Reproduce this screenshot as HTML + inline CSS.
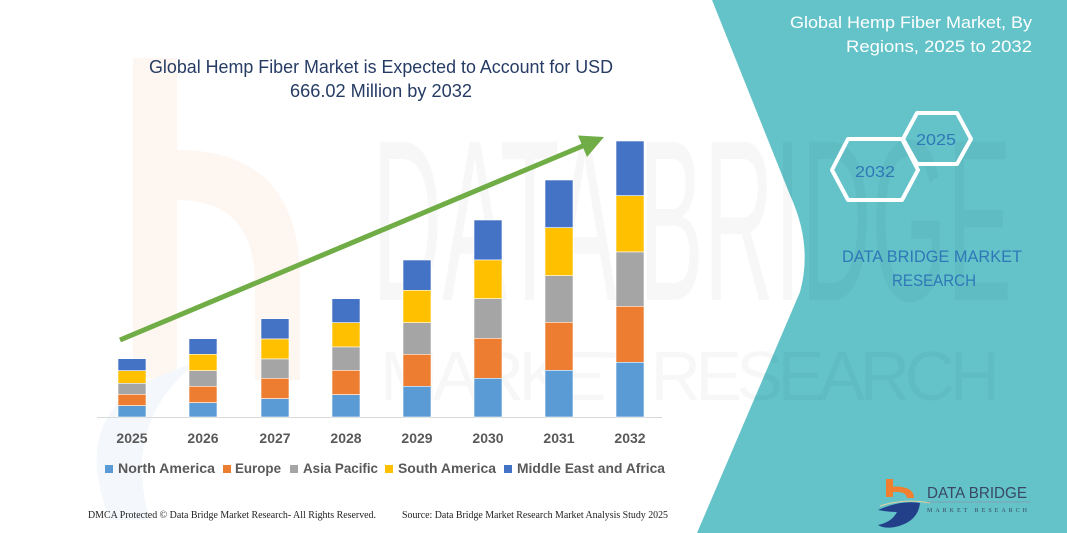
<!DOCTYPE html>
<html>
<head>
<meta charset="utf-8">
<style>
html,body{margin:0;padding:0;background:#fff;}
svg{display:block;}
</style>
</head>
<body>
<svg width="1067" height="533" viewBox="0 0 1067 533" xmlns="http://www.w3.org/2000/svg">
  <!-- backgrounds -->
  <rect x="0" y="0" width="1067" height="533" fill="#63c3c9"/>
  <path d="M0,0 L712,0 L790,195 Q813,245 800,292 L697,533 L0,533 Z" fill="#ffffff"/>

  <!-- faint watermark -->
  <g opacity="0.5">
    <rect x="133" y="58" width="44" height="320" fill="#fdeee4"/>
    <path d="M177,150 Q300,150 300,280 L300,380 L255,380 L255,285 Q255,200 177,200 Z" fill="#fdeee4"/>
    <path d="M110,520 Q70,420 150,380 L200,360 Q120,420 150,520 Z" fill="#eaf0f8"/>
  </g>
  <g font-family="'Liberation Sans', sans-serif" fill="#000" fill-opacity="0.03">
    <text x="372" y="300" font-size="230" textLength="640" lengthAdjust="spacingAndGlyphs" font-weight="normal">DATA BRIDGE</text>
    <text x="380" y="400" font-size="70" textLength="620" lengthAdjust="spacing">MARKET RESEARCH</text>
  </g>

  <!-- chart title -->
  <g font-family="'Liberation Sans', sans-serif" fill="#263c64" font-size="18.5" text-anchor="middle">
    <text x="381" y="73" textLength="464" lengthAdjust="spacingAndGlyphs">Global Hemp Fiber Market is Expected to Account for USD</text>
    <text x="381" y="97" textLength="182" lengthAdjust="spacingAndGlyphs">666.02 Million by 2032</text>
  </g>

  <!-- axis line -->
  <line x1="97" y1="417.5" x2="662" y2="417.5" stroke="#d9d9d9" stroke-width="1"/>

  <!-- bars -->
  <g stroke="#ffffff" stroke-width="0.6">
    <rect x="118" y="358.7" width="28" height="12" fill="#4472c4"/>
    <rect x="118" y="370.7" width="28" height="12.6" fill="#ffc000"/>
    <rect x="118" y="383.3" width="28" height="11" fill="#a5a5a5"/>
    <rect x="118" y="394.3" width="28" height="11.4" fill="#ed7d31"/>
    <rect x="118" y="405.7" width="28" height="11.3" fill="#5b9bd5"/>
    <rect x="189" y="338.7" width="28" height="15.6" fill="#4472c4"/>
    <rect x="189" y="354.3" width="28" height="16.4" fill="#ffc000"/>
    <rect x="189" y="370.7" width="28" height="15.6" fill="#a5a5a5"/>
    <rect x="189" y="386.3" width="28" height="16.4" fill="#ed7d31"/>
    <rect x="189" y="402.7" width="28" height="14.3" fill="#5b9bd5"/>
    <rect x="261" y="318.7" width="28" height="20.3" fill="#4472c4"/>
    <rect x="261" y="339" width="28" height="20" fill="#ffc000"/>
    <rect x="261" y="359" width="28" height="19.3" fill="#a5a5a5"/>
    <rect x="261" y="378.3" width="28" height="20.4" fill="#ed7d31"/>
    <rect x="261" y="398.7" width="28" height="18.3" fill="#5b9bd5"/>
    <rect x="332" y="298.7" width="28" height="24" fill="#4472c4"/>
    <rect x="332" y="322.7" width="28" height="24.3" fill="#ffc000"/>
    <rect x="332" y="347" width="28" height="23.3" fill="#a5a5a5"/>
    <rect x="332" y="370.3" width="28" height="24.4" fill="#ed7d31"/>
    <rect x="332" y="394.7" width="28" height="22.3" fill="#5b9bd5"/>
    <rect x="403" y="260" width="28" height="30.3" fill="#4472c4"/>
    <rect x="403" y="290.3" width="28" height="32.4" fill="#ffc000"/>
    <rect x="403" y="322.7" width="28" height="31.6" fill="#a5a5a5"/>
    <rect x="403" y="354.3" width="28" height="32" fill="#ed7d31"/>
    <rect x="403" y="386.3" width="28" height="30.7" fill="#5b9bd5"/>
    <rect x="474" y="220" width="28" height="40" fill="#4472c4"/>
    <rect x="474" y="260" width="28" height="38.7" fill="#ffc000"/>
    <rect x="474" y="298.7" width="28" height="39.6" fill="#a5a5a5"/>
    <rect x="474" y="338.3" width="28" height="40" fill="#ed7d31"/>
    <rect x="474" y="378.3" width="28" height="38.7" fill="#5b9bd5"/>
    <rect x="545" y="180" width="28" height="47.7" fill="#4472c4"/>
    <rect x="545" y="227.7" width="28" height="48" fill="#ffc000"/>
    <rect x="545" y="275.7" width="28" height="46.6" fill="#a5a5a5"/>
    <rect x="545" y="322.3" width="28" height="48" fill="#ed7d31"/>
    <rect x="545" y="370.3" width="28" height="46.7" fill="#5b9bd5"/>
    <rect x="616" y="141" width="28" height="54.7" fill="#4472c4"/>
    <rect x="616" y="195.7" width="28" height="56.3" fill="#ffc000"/>
    <rect x="616" y="252" width="28" height="54.3" fill="#a5a5a5"/>
    <rect x="616" y="306.3" width="28" height="56" fill="#ed7d31"/>
    <rect x="616" y="362.3" width="28" height="54.7" fill="#5b9bd5"/>
  </g>

  <!-- arrow -->
  <line x1="120" y1="340" x2="585" y2="145" stroke="#70ad47" stroke-width="5"/>
  <polygon points="604,137 578,135.5 587,157" fill="#70ad47"/>

  <!-- year labels -->
  <g font-family="'Liberation Sans', sans-serif" font-weight="bold" font-size="14" fill="#595959" text-anchor="middle">
    <text x="132" y="443">2025</text>
    <text x="203" y="443">2026</text>
    <text x="275" y="443">2027</text>
    <text x="346" y="443">2028</text>
    <text x="417" y="443">2029</text>
    <text x="488" y="443">2030</text>
    <text x="559" y="443">2031</text>
    <text x="630" y="443">2032</text>
  </g>

  <!-- legend -->
  <g font-family="'Liberation Sans', sans-serif" font-weight="bold" font-size="14" fill="#595959">
    <rect x="105" y="465" width="8" height="8" fill="#5b9bd5"/>
    <text x="118" y="473" textLength="97" lengthAdjust="spacingAndGlyphs">North America</text>
    <rect x="223" y="465" width="8" height="8" fill="#ed7d31"/>
    <text x="235" y="473" textLength="46" lengthAdjust="spacingAndGlyphs">Europe</text>
    <rect x="290" y="465" width="8" height="8" fill="#a5a5a5"/>
    <text x="303" y="473" textLength="75" lengthAdjust="spacingAndGlyphs">Asia Pacific</text>
    <rect x="385" y="465" width="8" height="8" fill="#ffc000"/>
    <text x="398" y="473" textLength="98" lengthAdjust="spacingAndGlyphs">South America</text>
    <rect x="504" y="465" width="8" height="8" fill="#4472c4"/>
    <text x="517" y="473" textLength="148" lengthAdjust="spacingAndGlyphs">Middle East and Africa</text>
  </g>

  <!-- footer -->
  <g font-family="'Liberation Serif', serif" font-size="10" fill="#222">
    <text x="88" y="518" textLength="288" lengthAdjust="spacingAndGlyphs">DMCA Protected © Data Bridge Market Research-  All Rights Reserved.</text>
    <text x="402" y="518" textLength="266" lengthAdjust="spacingAndGlyphs">Source: Data Bridge Market Research  Market Analysis Study 2025</text>
  </g>

  <!-- right panel title -->
  <g font-family="'Liberation Sans', sans-serif" font-size="17" fill="#ffffff" text-anchor="end">
    <text x="1032" y="28" textLength="242" lengthAdjust="spacingAndGlyphs">Global Hemp Fiber Market, By</text>
    <text x="1032" y="52" textLength="186" lengthAdjust="spacingAndGlyphs">Regions, 2025 to 2032</text>
  </g>

  <!-- hexagons -->
  <g fill="none" stroke="#ffffff" stroke-width="4" stroke-linejoin="round">
    <polygon points="903,139 917,113 957,113 971,139 957,164 917,164"/>
    <polygon points="832,170 848,139 902,139 918,170 902,200 848,200"/>
  </g>
  <g font-family="'Liberation Sans', sans-serif" font-size="16" fill="#2f78b8" text-anchor="middle">
    <text x="936" y="145" textLength="40" lengthAdjust="spacingAndGlyphs">2025</text>
    <text x="875" y="177" textLength="40" lengthAdjust="spacingAndGlyphs">2032</text>
  </g>

  <!-- DBMR text -->
  <g font-family="'Liberation Sans', sans-serif" font-size="17" fill="#2f78b8" text-anchor="middle">
    <text x="932" y="262" textLength="180" lengthAdjust="spacingAndGlyphs">DATA BRIDGE MARKET</text>
    <text x="934" y="286" textLength="84" lengthAdjust="spacingAndGlyphs">RESEARCH</text>
  </g>

  <!-- logo -->
  <g>
    <rect x="886" y="479" width="7" height="18" fill="#f07f2f"/>
    <path d="M886,487 Q914,484 914,498 L907,498 Q906,491 893,492 Z" fill="#f07f2f"/>
    <path d="M878,510 Q900,500 920,503 Q918,522 895,527 Q884,529 878,525 Q892,522 897,512 Q888,512 878,510 Z" fill="#22408a"/>
    <path d="M880,506 Q905,498 930,503" stroke="#e0d0a0" stroke-width="1" fill="none"/>
  </g>
  <g font-family="'Liberation Sans', sans-serif" fill="#3a4863">
    <text x="927" y="498" font-size="16" textLength="100" lengthAdjust="spacingAndGlyphs">DATA BRIDGE</text>
    <line x1="927" y1="502" x2="1030" y2="502" stroke="#8a96a8" stroke-width="0.8"/>
    <text x="927" y="512" font-size="6" textLength="100" lengthAdjust="spacing" font-family="'Liberation Serif', serif">MARKET RESEARCH</text>
  </g>
</svg>
</body>
</html>
